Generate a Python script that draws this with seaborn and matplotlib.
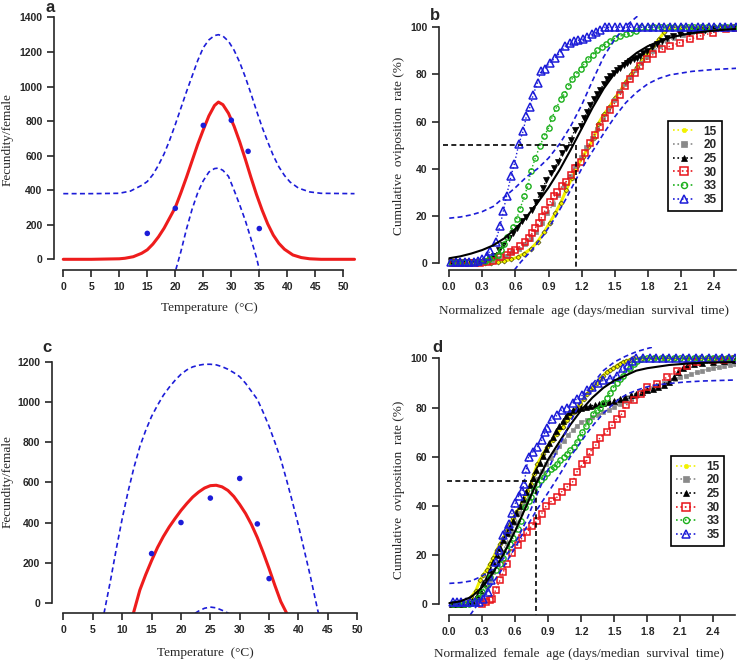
import numpy as np
import pandas as pd
import matplotlib
matplotlib.use('Agg')
import matplotlib.pyplot as plt
from matplotlib.lines import Line2D
import seaborn as sns

# ---------------- panel a / c : fecundity vs temperature ----------------
temp_pts = [15, 20, 25, 30, 33, 35]
a_fec_pts = [150, 295, 775, 805, 625, 178]
c_fec_pts = [245, 400, 522, 620, 393, 120]

a_fit = [(0, 0), (5, 0), (10, 3), (11, 6), (12.5, 15), (14, 35), (15, 55), (16, 88), (17, 130),
         (18, 180), (19, 240), (20, 300), (21, 385), (22, 475), (23, 570), (24, 665), (25, 750),
         (26, 830), (27, 890), (27.7, 910), (28.5, 895), (29.5, 845), (30.5, 770), (31.5, 680),
         (32.5, 580), (33.5, 475), (34.5, 375), (35.5, 285), (36.5, 205), (37.5, 140), (38.5, 92),
         (39.5, 58), (41, 25), (42.5, 10), (44, 3), (46, 0), (52, 0)]
a_upper = [(0, 380), (5, 380), (10, 382), (12, 395), (14, 428), (15, 450), (16, 490), (17, 545),
           (18, 610), (19, 690), (20, 780), (21, 875), (22, 970), (23, 1060), (24, 1150), (25, 1225),
           (26, 1270), (27, 1295), (27.7, 1300), (28.5, 1292), (29.5, 1262), (30.5, 1210),
           (31.5, 1140), (32.5, 1055), (33.5, 960), (34.5, 860), (35.5, 765), (36.5, 680),
           (37.5, 600), (38.5, 535), (39.5, 485), (40.5, 447), (42, 412), (44, 390), (46, 382), (52, 380)]
a_lower = [(20.1, -60), (21, 45), (22, 175), (23, 290), (24, 385), (25, 455), (26, 505), (27, 525),
           (27.7, 528), (28.5, 515), (29.5, 480), (30.5, 400), (31.5, 315), (32.5, 225),
           (33.5, 120), (34.5, 10), (35, -60)]

c_fit = [(11.9, -53), (13, 63), (14, 140), (15, 210), (16, 275), (17, 330), (18, 378), (19, 420),
         (20, 460), (21, 495), (22, 527), (23, 552), (24, 572), (25, 584), (26, 586), (27, 578),
         (28, 560), (29, 530), (30, 490), (31, 445), (32, 390), (33, 325), (34, 250), (35, 170),
         (36, 85), (37, 5), (38, -53)]
c_upper = [(6.9, -53), (8, 110), (9, 270), (10, 420), (11, 555), (12, 675), (13, 779), (14, 860),
           (15, 930), (16, 985), (17, 1035), (18, 1075), (19, 1110), (20, 1140), (21, 1162),
           (22, 1177), (23, 1185), (24, 1190), (25, 1190), (26, 1187), (27, 1178), (28, 1165),
           (29, 1148), (30, 1128), (31, 1095), (32, 1055), (33, 1015), (34, 950), (35, 880),
           (36, 800), (37, 715), (38, 610), (39, 500), (40, 385), (41, 260), (42, 135), (43, 0),
           (43.4, -53)]
c_lower = [(22.4, -53), (23, -42), (24, -28), (25, -22), (26, -26), (27, -38), (28.1, -53)]

# ---------------- panel b : cumulative oviposition ----------------
b15 = [(0.02, 0), (0.08, 0), (0.14, 0), (0.20, 0), (0.26, 0), (0.32, 0), (0.38, 0), (0.44, 0.3),
       (0.50, 0.8), (0.56, 1.5), (0.62, 2.5), (0.68, 4), (0.74, 6), (0.80, 9), (0.86, 13), (0.91, 17),
       (0.96, 21), (1.01, 25.5), (1.06, 31), (1.11, 36), (1.16, 41), (1.21, 45), (1.26, 49),
       (1.31, 53), (1.35, 59), (1.40, 63), (1.45, 66), (1.50, 70), (1.55, 73), (1.60, 77),
       (1.65, 80), (1.70, 83), (1.75, 86), (1.80, 89), (1.85, 92), (1.90, 95), (1.95, 98),
       (2.00, 100), (2.10, 100), (2.20, 100), (2.30, 100), (2.40, 100), (2.50, 100), (2.60, 100)]
b20 = [(0.03, 0), (0.09, 0), (0.15, 0), (0.21, 0), (0.27, 0), (0.33, 0.3), (0.39, 1), (0.45, 2),
       (0.51, 3), (0.57, 4.5), (0.63, 6), (0.69, 8), (0.74, 10), (0.79, 13), (0.84, 17), (0.89, 21),
       (0.94, 25), (0.99, 29), (1.04, 33), (1.09, 37), (1.14, 41), (1.19, 45), (1.24, 49),
       (1.29, 53), (1.34, 57), (1.39, 61), (1.44, 65), (1.49, 69), (1.54, 73), (1.59, 76),
       (1.64, 79), (1.69, 82), (1.74, 85), (1.79, 87.5), (1.85, 90), (1.91, 92), (1.97, 94),
       (2.04, 95.5), (2.12, 96.8), (2.20, 97.8), (2.30, 98.6), (2.40, 99.2), (2.50, 99.6), (2.60, 100)]
b25 = [(0.02, 0.5), (0.08, 0.5), (0.14, 0.5), (0.20, 0.5), (0.26, 0.5), (0.32, 0.8), (0.37, 1.5),
       (0.41, 3), (0.45, 5.5), (0.49, 7.7), (0.54, 10.5), (0.58, 12.5), (0.61, 14.8), (0.66, 17.6),
       (0.70, 19.7), (0.75, 22.5), (0.79, 26), (0.82, 29), (0.85, 31.8), (0.88, 35.3), (0.92, 38),
       (0.95, 40.3), (0.99, 43), (1.02, 46.7), (1.06, 48.8), (1.10, 52.3), (1.14, 56.6), (1.19, 58),
       (1.22, 61.6), (1.25, 64), (1.28, 67), (1.31, 69.4), (1.34, 71.5), (1.37, 73.6), (1.40, 76),
       (1.43, 77.9), (1.46, 79.5), (1.49, 80.7), (1.52, 81.8), (1.55, 82.8), (1.58, 84), (1.61, 85),
       (1.64, 85.7), (1.67, 86.4), (1.70, 87), (1.73, 87.8), (1.76, 88.9), (1.79, 90), (1.84, 91.5),
       (1.88, 92.8), (1.93, 94.2), (1.97, 95.6), (2.03, 96.3), (2.09, 97), (2.17, 97.7),
       (2.24, 98.4), (2.32, 98.8), (2.39, 99.1), (2.48, 99.5), (2.57, 99.9)]
b30 = [(0.03, 0), (0.08, 0), (0.13, 0), (0.18, 0), (0.23, 0), (0.28, 0), (0.34, 0.3), (0.40, 1),
       (0.46, 2.4), (0.52, 3.4), (0.56, 4.5), (0.60, 5.5), (0.64, 7), (0.69, 8.7), (0.72, 10.5),
       (0.75, 12.6), (0.78, 14.8), (0.81, 16.9), (0.84, 19.7), (0.87, 22.5), (0.91, 25.7),
       (0.95, 28.2), (0.98, 30), (1.02, 32.5), (1.06, 34.5), (1.10, 37.5), (1.14, 40.5), (1.19, 43),
       (1.23, 46.6), (1.28, 50.9), (1.32, 54.5), (1.37, 57.9), (1.41, 61.4), (1.46, 65), (1.50, 67.9),
       (1.55, 71.4), (1.59, 75), (1.64, 77.9), (1.68, 80.7), (1.73, 83.5), (1.79, 86.4), (1.85, 88.5),
       (1.93, 90.6), (2.00, 92), (2.09, 93.5), (2.18, 94.9), (2.27, 96.3), (2.39, 97.7), (2.51, 99.1),
       (2.60, 99.9)]
b33 = [(0.02, 0.3), (0.07, 0.3), (0.12, 0.3), (0.17, 0.3), (0.22, 0.3), (0.27, 0.5), (0.32, 1),
       (0.36, 1.5), (0.40, 2.5), (0.44, 3.5), (0.47, 5.5), (0.50, 8), (0.52, 11.2), (0.58, 15.2),
       (0.61, 18.6), (0.64, 22.8), (0.68, 28.2), (0.71, 32.5), (0.74, 38.9), (0.78, 44.5),
       (0.82, 49.5), (0.86, 53.8), (0.90, 57.3), (0.93, 61.6), (0.97, 65.8), (1.01, 69.4),
       (1.04, 71.5), (1.08, 75), (1.11, 77.9), (1.15, 80), (1.19, 82.5), (1.22, 84.3), (1.26, 86.4),
       (1.30, 88.3), (1.34, 90.2), (1.38, 91.6), (1.42, 93), (1.46, 94), (1.50, 95.3), (1.55, 96.3),
       (1.60, 97), (1.64, 97.7), (1.69, 98.4), (1.74, 100), (1.80, 100), (1.86, 100), (1.92, 100),
       (1.98, 100), (2.04, 100), (2.10, 100), (2.16, 100), (2.22, 100), (2.28, 100), (2.34, 100),
       (2.40, 100), (2.46, 100), (2.52, 100), (2.58, 100)]
b35 = [(0.02, 0.5), (0.06, 0.5), (0.10, 0.5), (0.14, 0.5), (0.18, 0.5), (0.22, 0.5), (0.26, 0.8),
       (0.30, 1.5), (0.34, 3), (0.37, 5.2), (0.42, 9), (0.46, 15.7), (0.49, 22), (0.52, 28.6),
       (0.56, 37), (0.59, 42), (0.63, 50.4), (0.67, 56), (0.70, 62.5), (0.73, 66), (0.76, 71.3),
       (0.80, 76.5), (0.83, 81.4), (0.87, 82.5), (0.91, 85), (0.96, 87), (1.00, 89), (1.05, 92),
       (1.09, 93.5), (1.13, 94), (1.17, 94.5), (1.21, 95), (1.25, 96), (1.29, 97), (1.33, 98),
       (1.37, 99), (1.41, 100), (1.45, 100), (1.50, 100), (1.55, 100), (1.60, 100), (1.65, 100),
       (1.70, 100), (1.75, 100), (1.80, 100), (1.85, 100), (1.90, 100), (1.95, 100), (2.00, 100),
       (2.05, 100), (2.10, 100), (2.15, 100), (2.20, 100), (2.25, 100), (2.30, 100), (2.35, 100),
       (2.40, 100), (2.45, 100), (2.50, 100), (2.55, 100), (2.60, 100)]
b_fit = [(0, 2), (0.1, 2.8), (0.2, 4), (0.3, 5.5), (0.4, 7.5), (0.5, 10.5), (0.6, 14.5), (0.7, 19.5),
         (0.8, 25.5), (0.9, 32), (1.0, 39.5), (1.1, 48), (1.2, 57), (1.3, 66), (1.4, 74), (1.5, 80.5),
         (1.6, 85.5), (1.7, 89.2), (1.8, 92), (1.9, 94), (2.0, 95.6), (2.1, 96.7), (2.2, 97.5),
         (2.3, 98.1), (2.4, 98.6), (2.5, 99), (2.6, 99.3)]
b_upper = [(0, 19), (0.1, 19.5), (0.2, 20.4), (0.3, 21.8), (0.4, 24), (0.5, 28), (0.6, 32),
           (0.7, 36.5), (0.8, 40), (0.9, 44.5), (1.0, 50.5), (1.1, 58), (1.2, 67), (1.3, 77.5),
           (1.4, 87.5), (1.5, 95), (1.6, 100.5), (1.7, 104.5), (1.8, 107.5)]
b_lower = [(0.59, -3), (0.65, 0.5), (0.7, 3), (0.75, 5.5), (0.8, 8.5), (0.85, 11.5), (0.9, 15),
           (0.95, 18.5), (1.0, 22.5), (1.05, 26.5), (1.1, 31), (1.15, 35.5), (1.2, 40), (1.3, 47.5),
           (1.4, 55), (1.5, 62), (1.6, 68), (1.7, 72.5), (1.8, 76), (1.9, 78.3), (2.0, 79.8),
           (2.2, 81.3), (2.4, 82.1), (2.6, 82.6)]
b_half_x = 1.15

# ---------------- panel d ----------------
d15 = [(0.03, 0.3), (0.08, 0.3), (0.13, 0.3), (0.17, 1), (0.20, 3), (0.24, 5.5), (0.28, 9.8),
       (0.31, 12), (0.34, 14), (0.37, 16.5), (0.40, 19), (0.43, 22), (0.46, 24.5), (0.49, 27),
       (0.52, 30), (0.55, 32.5), (0.58, 35), (0.61, 37.5), (0.65, 40), (0.68, 43), (0.71, 46),
       (0.74, 49), (0.77, 53), (0.80, 57), (0.85, 61), (0.89, 64), (0.94, 67), (0.98, 69.4),
       (1.03, 72), (1.07, 74.8), (1.10, 76.5), (1.13, 78), (1.16, 80), (1.19, 81.6), (1.22, 83.5),
       (1.25, 85.5), (1.28, 87), (1.31, 88.3), (1.34, 90), (1.37, 91.5), (1.40, 93), (1.43, 94.4),
       (1.46, 95.2), (1.49, 96), (1.52, 97), (1.55, 97.8), (1.58, 98.5), (1.61, 99), (1.64, 99.5),
       (1.67, 100), (1.75, 100), (1.85, 100), (1.95, 100), (2.05, 100), (2.15, 100), (2.25, 100),
       (2.35, 100), (2.45, 100), (2.55, 100)]
d20 = [(0.03, 0.3), (0.08, 0.3), (0.13, 0.3), (0.18, 0.3), (0.22, 0.8), (0.26, 2), (0.30, 4),
       (0.34, 7), (0.37, 10), (0.40, 13), (0.44, 17), (0.48, 21), (0.52, 25), (0.56, 29), (0.60, 33),
       (0.64, 37), (0.68, 40.5), (0.72, 44), (0.76, 47.5), (0.80, 51), (0.84, 54), (0.88, 57),
       (0.92, 59.5), (0.96, 62), (1.00, 64.5), (1.04, 66.5), (1.08, 69), (1.12, 71), (1.16, 72.5),
       (1.20, 74), (1.25, 75), (1.30, 76), (1.35, 77), (1.40, 78), (1.45, 79), (1.50, 80.2),
       (1.55, 81.4), (1.60, 82.5), (1.65, 83.5), (1.70, 84.8), (1.75, 86), (1.80, 87), (1.85, 88),
       (1.90, 89), (1.95, 90), (2.00, 90.8), (2.05, 91.6), (2.10, 92.3), (2.15, 93), (2.20, 93.7),
       (2.25, 94.4), (2.30, 95), (2.35, 95.5), (2.40, 96), (2.45, 96.5), (2.50, 97), (2.55, 97.4),
       (2.60, 97.8)]
d25 = [(0.02, 0.3), (0.07, 0.3), (0.12, 0.3), (0.17, 0.5), (0.21, 1.5), (0.25, 3.5), (0.28, 6),
       (0.31, 8.5), (0.34, 11), (0.37, 14), (0.40, 17), (0.43, 20), (0.46, 23), (0.49, 26),
       (0.52, 29), (0.55, 31.5), (0.58, 34), (0.61, 37), (0.64, 40), (0.67, 43), (0.70, 45.5),
       (0.73, 48.5), (0.76, 51.5), (0.79, 54.5), (0.82, 57.5), (0.85, 60.5), (0.88, 63), (0.91, 65.5),
       (0.94, 68), (0.97, 70.5), (1.00, 72.5), (1.03, 74.5), (1.06, 76.5), (1.09, 78), (1.12, 79),
       (1.16, 79.5), (1.20, 79.8), (1.24, 80.2), (1.28, 80.6), (1.32, 81), (1.36, 81.4), (1.40, 81.8),
       (1.45, 82.3), (1.50, 82.8), (1.55, 83.5), (1.60, 84.2), (1.65, 85), (1.70, 85.7), (1.75, 86.4),
       (1.80, 87), (1.85, 87.7), (1.90, 88.5), (1.95, 89.3), (2.00, 90.5), (2.04, 92.4), (2.08, 94.3),
       (2.12, 96), (2.16, 97), (2.22, 97.6), (2.30, 98), (2.40, 98.5), (2.50, 99), (2.60, 99.5)]
d30 = [(0.30, 0.3), (0.33, 1), (0.37, 1.8), (0.39, 2.3), (0.42, 5.7), (0.46, 9.8), (0.49, 13),
       (0.52, 16.5), (0.57, 21), (0.62, 24), (0.66, 27), (0.71, 29.4), (0.75, 32), (0.80, 34),
       (0.84, 36.9), (0.88, 40), (0.93, 42), (0.98, 43.6), (1.02, 45.7), (1.07, 47.7), (1.12, 49.7),
       (1.16, 53.8), (1.21, 57), (1.25, 58.5), (1.28, 62), (1.33, 64.6), (1.37, 67.8), (1.43, 70),
       (1.48, 72.8), (1.52, 75.5), (1.57, 77.5), (1.61, 81), (1.68, 83), (1.74, 85.6), (1.80, 88.3),
       (1.89, 89.7), (1.98, 92.4), (2.07, 95), (2.16, 97), (2.25, 98.5), (2.40, 99.2), (2.50, 99.5),
       (2.60, 99.9)]
d33 = [(0.03, 0.3), (0.08, 0.3), (0.13, 0.3), (0.18, 0.3), (0.22, 1), (0.26, 2.5), (0.30, 5),
       (0.33, 8), (0.37, 11), (0.42, 14), (0.46, 16.5), (0.49, 19), (0.52, 22), (0.55, 24.5),
       (0.58, 27), (0.62, 30.5), (0.65, 34), (0.69, 39.6), (0.72, 42), (0.74, 43.6), (0.77, 46.3),
       (0.80, 49), (0.83, 50.5), (0.86, 51.8), (0.89, 53.5), (0.92, 55), (0.95, 56), (0.98, 57),
       (1.01, 58.5), (1.04, 60), (1.07, 61.3), (1.10, 62.6), (1.13, 64), (1.16, 66), (1.19, 68),
       (1.21, 70), (1.24, 72.5), (1.27, 74.5), (1.31, 77.5), (1.34, 78.8), (1.37, 80), (1.40, 82),
       (1.43, 84), (1.46, 86), (1.49, 88), (1.52, 90), (1.55, 91.7), (1.58, 93), (1.61, 94.4),
       (1.64, 96), (1.68, 97.8), (1.71, 99), (1.74, 99.9), (1.80, 100), (1.86, 100), (1.92, 100),
       (1.98, 100), (2.04, 100), (2.10, 100), (2.16, 100), (2.22, 100), (2.28, 100), (2.34, 100),
       (2.40, 100), (2.46, 100), (2.52, 100), (2.58, 100)]
d35 = [(0.03, 1), (0.07, 1), (0.11, 1), (0.15, 1), (0.19, 1), (0.23, 1), (0.27, 1), (0.31, 2),
       (0.35, 5), (0.38, 10), (0.42, 17), (0.45, 22), (0.49, 28), (0.52, 30.5), (0.54, 32.8),
       (0.57, 37), (0.60, 41), (0.63, 44), (0.66, 46), (0.68, 49), (0.70, 55), (0.72, 60), (0.76, 62),
       (0.80, 64), (0.84, 66.7), (0.87, 70), (0.89, 71.8), (0.93, 75.5), (0.98, 76.8), (1.02, 79),
       (1.07, 80), (1.12, 82), (1.16, 83.6), (1.21, 85), (1.25, 87), (1.30, 88.5), (1.35, 90),
       (1.40, 91), (1.46, 91.7), (1.52, 93), (1.58, 96), (1.62, 97.5), (1.66, 99), (1.70, 100),
       (1.76, 100), (1.82, 100), (1.88, 100), (1.94, 100), (2.00, 100), (2.06, 100), (2.12, 100),
       (2.18, 100), (2.24, 100), (2.30, 100), (2.36, 100), (2.42, 100), (2.48, 100), (2.54, 100),
       (2.60, 100)]
d_fit = [(0, 0.5), (0.1, 1.2), (0.2, 3), (0.3, 7), (0.4, 13), (0.5, 21), (0.6, 30), (0.7, 40),
         (0.8, 50), (0.9, 59), (1.0, 66), (1.1, 73), (1.2, 79), (1.3, 84), (1.4, 88), (1.5, 91),
         (1.6, 93), (1.7, 95), (1.8, 96), (2.0, 97.3), (2.2, 98), (2.4, 98.3), (2.6, 98.5)]
d_upper = [(0, 8.5), (0.1, 8.8), (0.2, 9.5), (0.3, 11.5), (0.4, 14.5), (0.5, 19), (0.6, 25),
           (0.7, 34), (0.8, 45), (0.9, 55), (1.0, 64.5), (1.1, 74), (1.2, 83), (1.3, 89.5),
           (1.4, 95), (1.5, 98.5), (1.6, 100.8), (1.7, 102.7), (1.8, 104), (1.85, 104.6)]
d_lower = [(0.19, -4.3), (0.25, -0.5), (0.31, 3), (0.37, 7), (0.43, 11), (0.49, 15), (0.55, 19.5),
           (0.61, 24), (0.67, 29), (0.73, 33.5), (0.79, 38), (0.87, 43.5), (0.95, 49), (1.02, 54),
           (1.10, 60), (1.18, 65), (1.25, 69.5), (1.32, 73.5), (1.40, 77.6), (1.48, 81), (1.55, 83.7),
           (1.62, 85.5), (1.70, 87), (1.78, 88.2), (1.85, 89), (2.0, 89.8), (2.15, 90.4), (2.31, 90.8),
           (2.45, 91), (2.6, 91.2)]
d_half_x = 0.79
half_level = 50

series_labels = ['15', '20', '25', '30', '33', '35']

# ---------------- style ----------------
sns.set_style('ticks')
plt.rcParams['font.family'] = ['Liberation Sans', 'DejaVu Sans']
plt.rcParams['font.weight'] = 'bold'

RED = '#ee1c1c'
BLUE = '#1c1cd8'
serif = ['Liberation Serif', 'DejaVu Serif']

fig = plt.figure(figsize=(7.39, 6.61), dpi=100)
ax_a = fig.add_axes([0.0735, 0.5915, 0.410, 0.3874])
ax_b = fig.add_axes([0.5945, 0.5915, 0.4016, 0.3843])
ax_c = fig.add_axes([0.0700, 0.0722, 0.4213, 0.3843])
ax_d = fig.add_axes([0.5945, 0.0696, 0.4005, 0.4050])


def to_df(pairs):
    return pd.DataFrame(pairs, columns=['x', 'y'])


def curve(ax, pairs, color, lw, dashed=False):
    df = to_df(pairs)
    ls = (0, (3, 2)) if dashed else '-'
    sns.lineplot(data=df, x='x', y='y', ax=ax, color=color, lw=lw, linestyle=ls,
                 estimator=None, sort=False)


def finish(ax, xlim, ylim, xticks, yticks, xb, yb, xlabels=None):
    ax.set_xlim(*xlim)
    ax.set_ylim(*ylim)
    ax.set_xticks(xticks)
    ax.set_yticks(yticks)
    if xlabels is not None:
        ax.set_xticklabels(xlabels)
    for s in ['top', 'right']:
        ax.spines[s].set_visible(False)
    ax.spines['left'].set_bounds(*yb)
    ax.spines['bottom'].set_bounds(*xb)
    for s in ['left', 'bottom']:
        ax.spines[s].set_linewidth(1.2)
    ax.tick_params(direction='out', length=5, width=1.2, labelsize=7.5, pad=3.5)
    ax.set_xlabel('')
    ax.set_ylabel('')


# ---- panel a / c ----
for ax, fit, up, lo, pts in [(ax_a, a_fit, a_upper, a_lower, a_fec_pts),
                             (ax_c, c_fit, c_upper, c_lower, c_fec_pts)]:
    curve(ax, up, BLUE, 1.2, dashed=True)
    curve(ax, lo, BLUE, 1.2, dashed=True)
    curve(ax, fit, RED, 2.2)
    sns.scatterplot(x=temp_pts, y=pts, ax=ax, color=BLUE, s=16, edgecolor='none', zorder=5)

finish(ax_a, (-1.6, 52.5), (-62, 1420), range(0, 51, 5), range(0, 1401, 200), (0, 50), (0, 1400))
finish(ax_c, (-2.0, 51), (-53, 1215), range(0, 51, 5), range(0, 1201, 200), (0, 50), (0, 1200))

# ---- panel b / d ----
styles = {
    '15': dict(color='#f2f200', marker='D', ms=2.6, mfc='#f2f200', mec='#222200', mew=0.4, lw=2.2),
    '20': dict(color='#8a8a8a', marker='s', ms=3.2, mfc='#8a8a8a', mec='#8a8a8a', mew=0.5, lw=1.0),
    '25': dict(color='black', marker='^', ms=4.0, mfc='black', mec='black', mew=0.5, lw=1.0),
    '30': dict(color='#e8141a', marker='s', ms=4.6, mfc='none', mec='#e8141a', mew=1.1, lw=1.0),
    '33': dict(color='#1cb01c', marker='o', ms=3.8, mfc='none', mec='#1cb01c', mew=1.0, lw=1.0),
    '35': dict(color='#1c1cd8', marker='^', ms=5.6, mfc='none', mec='#1c1cd8', mew=1.1, lw=1.0),
}

for ax, sets, fit, up, lo in [
        (ax_b, [b15, b20, b25, b30, b33, b35], b_fit, b_upper, b_lower),
        (ax_d, [d15, d20, d25, d30, d33, d35], d_fit, d_upper, d_lower)]:
    for lab, pairs in zip(series_labels, sets):
        st = dict(styles[lab])
        if ax is ax_b and lab == '25':
            st['marker'] = 'v'
        df = to_df(pairs)
        sns.lineplot(data=df, x='x', y='y', ax=ax, estimator=None, sort=False,
                     linestyle=':' if lab != '15' else '-', **st)
    curve(ax, fit, 'black', 1.5)
    curve(ax, up, BLUE, 1.2, dashed=True)
    curve(ax, lo, BLUE, 1.2, dashed=True)

age_ticks = np.arange(0, 2.41, 0.3)
age_labels = ['%.1f' % v for v in age_ticks]
finish(ax_b, (-0.09, 2.6), (-3.0, 104.8), age_ticks, range(0, 101, 20), (0, 2.6), (0, 100), age_labels)
finish(ax_d, (-0.091, 2.6), (-4.35, 104.5), age_ticks, range(0, 101, 20), (0, 2.6), (0, 100), age_labels)

for ax, hx, x0 in [(ax_b, b_half_x, -0.06), (ax_d, d_half_x, -0.02)]:
    ybot = ax.get_ylim()[0]
    ax.plot([x0, hx], [half_level, half_level], color='black', lw=1.2, ls=(0, (3, 2)), clip_on=False)
    ax.plot([hx, hx], [half_level, ybot], color='black', lw=1.2, ls=(0, (3, 2)), clip_on=False)

# legends
for ax, anchor in [(ax_b, (0.771, 0.587)), (ax_d, (0.783, 0.594))]:
    handles = []
    for lab in series_labels:
        st = styles[lab]
        handles.append(Line2D([], [], color=st['color'], ls=':', lw=1.2,
                              marker=st['marker'] if lab != '15' else 'o',
                              ms=st['ms'] + 0.6, mfc=st['mfc'],
                              mec=st['mec'] if lab != '15' else '#f2f200', mew=st['mew']))
    leg = ax.legend(handles, series_labels, loc='upper left', bbox_to_anchor=anchor, borderaxespad=0,
                    frameon=True, fancybox=False, edgecolor='black', framealpha=1,
                    prop={'size': 8.5, 'weight': 'bold'}, handlelength=1.8, handletextpad=0.8,
                    labelspacing=0.14, borderpad=0.4)
    leg.get_frame().set_linewidth(1.2)

# axis labels
lab_kw = dict(family=serif, fontsize=9.5, fontweight='normal')
ax_a.set_ylabel('Fecundity/female', **lab_kw)
ax_c.set_ylabel('Fecundity/female', **lab_kw)
ax_a.set_xlabel('Temperature  (°C)', **lab_kw)
ax_c.set_xlabel('Temperature  (°C)', **lab_kw)
for ax in (ax_b, ax_d):
    ax.set_ylabel('Cumulative  oviposition  rate (%)', **lab_kw)
    ax.set_xlabel('Normalized  female  age (days/median  survival  time)', **lab_kw)

ax_a.yaxis.set_label_coords(-0.133, 0.508)
ax_b.yaxis.set_label_coords(-0.116, 0.49)
ax_c.yaxis.set_label_coords(-0.124, 0.518)
ax_d.yaxis.set_label_coords(-0.116, 0.467)
ax_a.xaxis.set_label_coords(0.513, -0.124)
ax_b.xaxis.set_label_coords(0.489, -0.138)
ax_c.xaxis.set_label_coords(0.495, -0.131)
ax_d.xaxis.set_label_coords(0.472, -0.123)

# panel letters
for letter, x, y in [('a', 50, 8), ('b', 435, 15), ('c', 47, 348), ('d', 437, 348)]:
    fig.text(x / 739, 1 - y / 661, letter, fontsize=12, fontweight='bold', ha='center', va='center')

fig.savefig('out.png', dpi=100)
